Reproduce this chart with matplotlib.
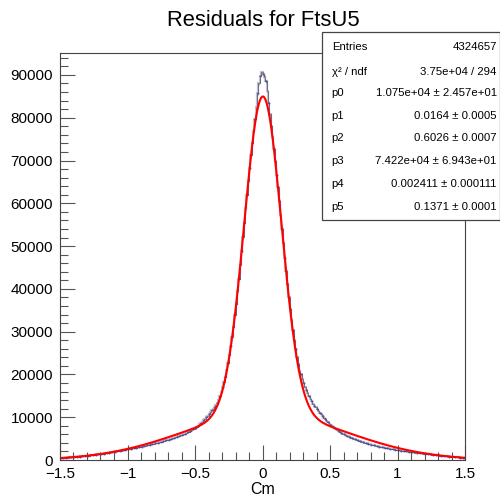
import numpy as np
import matplotlib
matplotlib.use("Agg")
import matplotlib.pyplot as plt
from matplotlib.patches import Rectangle
from matplotlib.ticker import MultipleLocator

plt.rcParams['font.family'] = ['Liberation Sans', 'DejaVu Sans']

# histogram: 300 bins of width 0.01 from -1.5 to 1.5
x_lo, x_hi, n_bins = -1.5, 1.5, 300
counts_left = [
    470, 490, 510, 530, 552, 575, 598, 622, 646, 672,
    698, 725, 752, 782, 812, 842, 875, 905, 940, 975,
    1010, 1050, 1085, 1125, 1165, 1205, 1250, 1290, 1335, 1380,
    1425, 1470, 1515, 1565, 1615, 1665, 1720, 1770, 1825, 1880,
    1935, 1990, 2045, 2100, 2160, 2220, 2280, 2340, 2400, 2460,
    2510, 2570, 2630, 2690, 2750, 2810, 2870, 2940, 3000, 3070,
    3140, 3210, 3280, 3350, 3420, 3490, 3560, 3640, 3710, 3790,
    3870, 3950, 4030, 4120, 4200, 4290, 4380, 4470, 4560, 4650,
    4750, 4850, 4950, 5050, 5160, 5270, 5380, 5500, 5620, 5740,
    5870, 6000, 6150, 6290, 6440, 6600, 6780, 6960, 7150, 7340,
    7560, 7780, 8050, 8350, 8650, 8950, 9300, 9650, 10000, 10400,
    10800, 11200, 11600, 12000, 12400, 12850, 13400, 14100, 14950, 15900,
    16950, 18200, 19500, 21000, 22700, 24600, 26600, 28800, 31200, 33800,
    36500, 39400, 42400, 45600, 48800, 52100, 55400, 58800, 62000, 65200,
    68300, 71200, 74100, 77000, 79700, 82500, 85700, 88000, 89700, 90600,
]
counts_right = [
    90300, 89600, 88500, 86300, 83400, 80800, 78100, 75400, 72700, 69900,
    66700, 63800, 60600, 57200, 53900, 50700, 47300, 44200, 41100, 38200,
    35400, 32700, 30300, 28000, 25900, 24100, 22400, 20900, 20000, 19000,
    18000, 17100, 16300, 15600, 14900, 14300, 13700, 13200, 12700, 12300,
    11900, 11500, 11100, 10700, 10300, 9900, 9500, 9150, 8800, 8500,
    8200, 7950, 7700, 7450, 7300, 7050, 6800, 6550, 6350, 6150,
    6000, 5850, 5700, 5550, 5400, 5250, 5100, 4980, 4850, 4720,
    4600, 4480, 4370, 4260, 4150, 4050, 3950, 3860, 3770, 3680,
    3600, 3510, 3430, 3350, 3280, 3200, 3130, 3060, 3000, 2930,
    2870, 2810, 2750, 2690, 2630, 2580, 2520, 2470, 2420, 2370,
    2320, 2270, 2220, 2170, 2120, 2080, 2030, 1990, 1950, 1900,
    1860, 1820, 1780, 1740, 1700, 1660, 1620, 1580, 1540, 1500,
    1460, 1420, 1380, 1340, 1300, 1260, 1220, 1180, 1140, 1100,
    1060, 1020, 990, 950, 920, 880, 850, 820, 790, 760,
    730, 700, 675, 650, 625, 600, 575, 555, 530, 510,
]

# fit parameters (gaus + gaus)
p = [1.075e4, 0.0164, 0.6026, 7.422e4, 0.002411, 0.1371]

stats_names = ["Entries", "χ² / ndf", "p0", "p1", "p2", "p3", "p4", "p5"]
stats_values = ["4324657", "3.75e+04 / 294", "1.075e+04 ± 2.457e+01",
                "0.0164 ± 0.0005", "0.6026 ± 0.0007", "7.422e+04 ± 6.943e+01",
                "0.002411 ± 0.000111", "0.1371 ± 0.0001"]

counts = np.array(counts_left + counts_right, dtype=float)
edges = np.linspace(x_lo, x_hi, n_bins + 1)
centers = 0.5 * (edges[:-1] + edges[1:])

def fitfunc(x):
    return (p[0] * np.exp(-0.5 * ((x - p[1]) / p[2]) ** 2)
            + p[3] * np.exp(-0.5 * ((x - p[4]) / p[5]) ** 2))

fig = plt.figure(figsize=(5, 4.98), dpi=100)
ax = fig.add_axes([0.12, 0.0763, 0.81, 0.8173])

# ROOT style: bin bars (gray) + error bars + tiny blue markers
ax.stairs(counts, edges, color='#9a9aa6', lw=1.6, alpha=0.6)
ax.stairs(counts, edges, color='#5a5a7a', lw=0.6)
ax.vlines(centers, counts - np.sqrt(counts), counts + np.sqrt(counts),
          color='#999999', lw=0.6)
ax.plot(centers[::2], counts[::2], ls='none', marker='.', ms=0.8,
        color='#2a2aa0', alpha=0.8)

xf = np.linspace(x_lo, x_hi, 1000)
ax.plot(xf, fitfunc(xf), color='#ff0000', lw=1.5)

ax.set_xlim(x_lo, x_hi)
ax.set_ylim(0, 1.05 * counts.max())

ax.xaxis.set_major_locator(MultipleLocator(0.5))
ax.xaxis.set_minor_locator(MultipleLocator(0.1))
ax.yaxis.set_major_locator(MultipleLocator(10000))
ax.yaxis.set_minor_locator(MultipleLocator(2000))
ax.tick_params(which='both', direction='in', top=False, right=False,
               labelsize=11, width=0.8, color='#555555')
ax.tick_params(which='major', length=11, pad=5)
ax.tick_params(which='minor', length=6)
ax.xaxis.set_major_formatter(matplotlib.ticker.FuncFormatter(
    lambda v, pos: ('%g' % v).replace('-', '\u2212')))
ax.yaxis.set_major_formatter(matplotlib.ticker.FuncFormatter(
    lambda v, pos: '%d' % v))
for s in ax.spines.values():
    s.set_linewidth(0.8)
    s.set_color('#444444')

ax.set_xlabel("Cm", fontsize=11.5, labelpad=1)
fig.text(0.526, 0.958, "Residuals for FtsU5", ha='center', va='center', fontsize=15.8)

# stats box
box = Rectangle((0.644, 0.5582), 0.356, 0.3775, transform=fig.transFigure,
                facecolor='white', edgecolor='#444444', lw=0.9, zorder=5)
fig.add_artist(box)
row_y = [46.7, 71.7, 93.3, 116, 138, 161, 184, 206.7]
for name, val, yp in zip(stats_names, stats_values, row_y):
    fy = 1 - yp / 498
    fig.text(331.7 / 500, fy, name, ha='left', va='center', fontsize=8.2, zorder=6)
    fig.text(496.7 / 500, fy, val, ha='right', va='center', fontsize=8.2, zorder=6)

plt.savefig("out.png", dpi=100)
